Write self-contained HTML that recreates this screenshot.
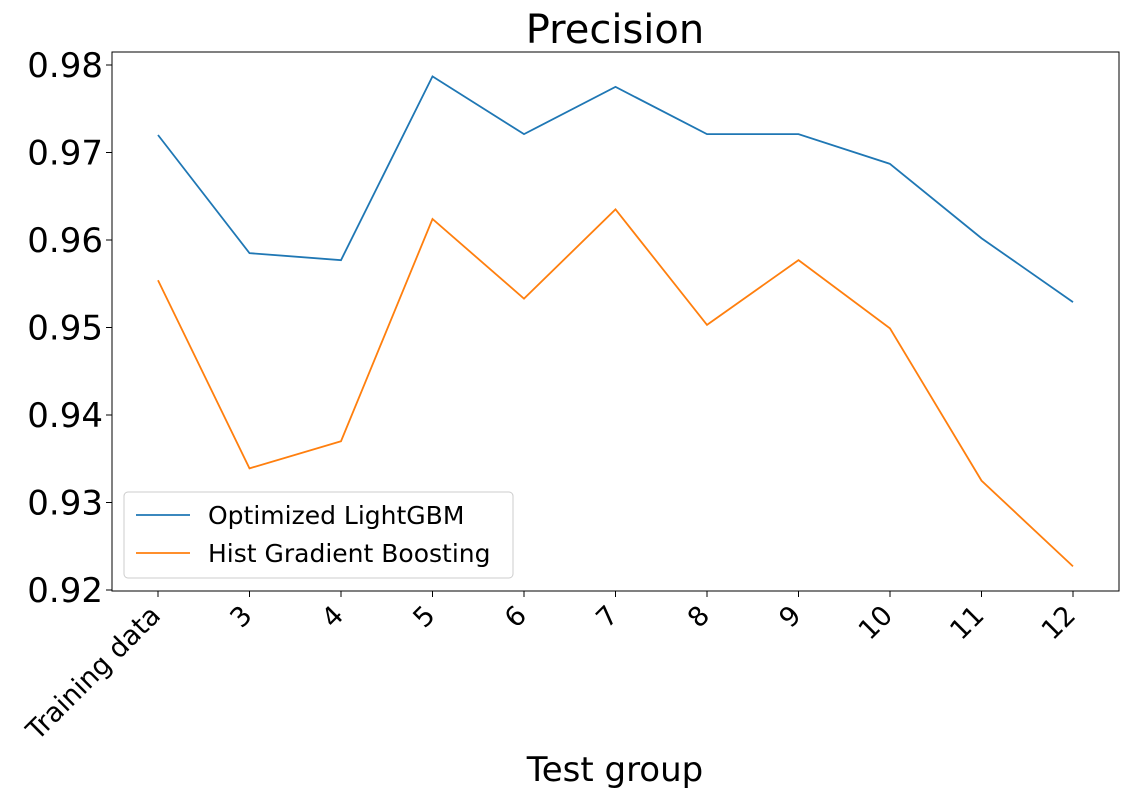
<!DOCTYPE html>
<html><head><meta charset="utf-8"><style>
html,body{margin:0;padding:0;background:#fff;}
svg{display:block;font-family:"DejaVu Sans","Liberation Sans",sans-serif;}
</style></head><body>
<svg id="chart" width="1129" height="798"></svg>
<script>
const categories = ["Training data","3","4","5","6","7","8","9","10","11","12"];
const lightgbm = [0.9720,0.9585,0.9577,0.9787,0.9721,0.9775,0.9721,0.9721,0.9687,0.9602,0.9529];
const histgb = [0.9554,0.9339,0.9370,0.9624,0.9533,0.9635,0.9503,0.9577,0.9499,0.9325,0.9227];
const yTicks = [0.92,0.93,0.94,0.95,0.96,0.97,0.98];

const NS="http://www.w3.org/2000/svg";
const svg=document.getElementById('chart');
const L=112,R=1119,T=52,B=591;
function x(i){return 158+i*(1073-158)/(categories.length-1);}
function y(v){return 590-(v-0.92)*(590-65)/0.06;}
function el(tag,attrs,parent){const e=document.createElementNS(NS,tag);for(const k in attrs)e.setAttribute(k,attrs[k]);(parent||svg).appendChild(e);return e;}

const title=el('text',{x:615,y:43,'font-size':40,'text-anchor':'middle',fill:'#000'});
title.textContent='Precision';



const frame=el('rect',{x:L,y:T,width:R-L,height:B-T,fill:'none',stroke:'#000','stroke-width':1});



yTicks.forEach(v=>{
  const t=el('line',{x1:L-6,x2:L,y1:y(v),y2:y(v),stroke:'#000','stroke-width':1});
  
  
  const lb=el('text',{x:L-9,y:y(v)+12,'font-size':34,'text-anchor':'end',fill:'#000'});
  lb.textContent=v.toFixed(2);
  
  
});
categories.forEach((c,i)=>{
  const t=el('line',{x1:x(i),x2:x(i),y1:B,y2:B+6,stroke:'#000','stroke-width':1});
  
  
  const ax=x(i)+4, ay=B+26;
  const lb=el('text',{x:ax,y:ay,'font-size':27,'text-anchor':'end',fill:'#000',transform:`rotate(-45 ${ax} ${ay})`});
  lb.textContent=c;
  
  
});
const xl=el('text',{x:615,y:781,'font-size':34,'text-anchor':'middle',fill:'#000'});
xl.textContent='Test group';



function series(vals,color,name){
  const p=el('polyline',{points:vals.map((v,i)=>x(i)+','+y(v)).join(' '),fill:'none',stroke:color,'stroke-width':1.8});
  
  
}
series(lightgbm,'#1f77b4','line-optimized-lightgbm');
series(histgb,'#ff7f0e','line-hist-gradient-boosting');

const lg=el('g',{});


el('rect',{x:124,y:492,width:389,height:86,rx:4,fill:'#fff','fill-opacity':0.8,stroke:'#ccc'},lg);
[['Optimized LightGBM','#1f77b4',515],['Hist Gradient Boosting','#ff7f0e',553]].forEach(([n,c,yy])=>{
  const g=el('g',{},lg);
  
  
  el('line',{x1:136,x2:190,y1:yy,y2:yy,stroke:c,'stroke-width':1.8},g);
  const t=el('text',{x:208,y:yy+9,'font-size':25,fill:'#000'},g);
  t.textContent=n;
});
</script>
</body></html>
